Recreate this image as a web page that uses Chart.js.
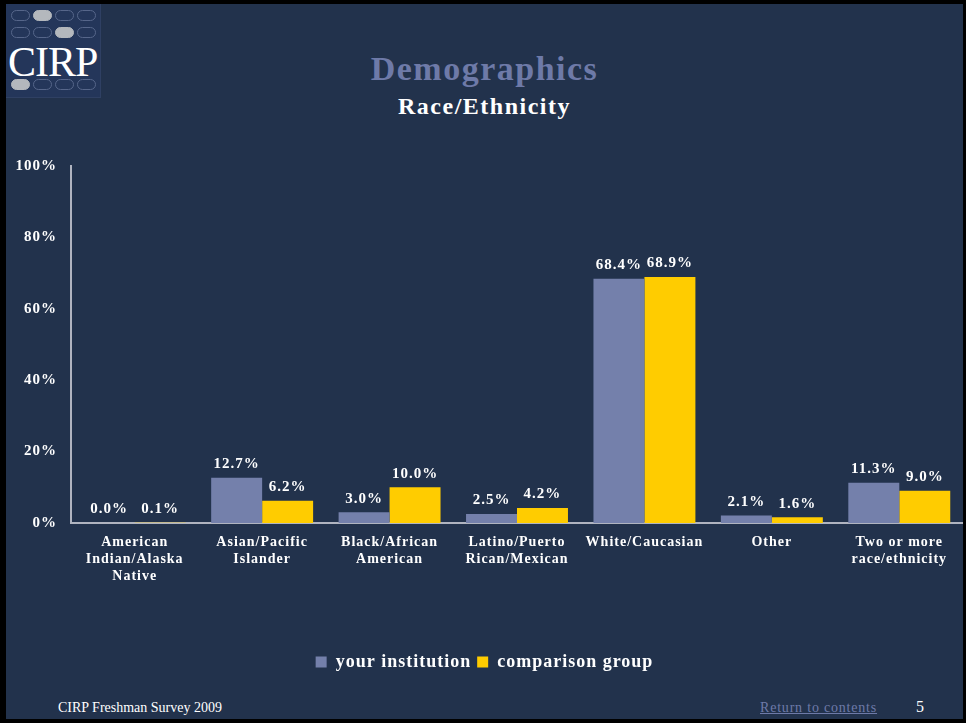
<!DOCTYPE html>
<html>
<head>
<meta charset="utf-8">
<script src="https://cdn.jsdelivr.net/npm/chart.js@4/dist/chart.umd.min.js"></script>
<style>
  html, body { margin: 0; padding: 0; background: #000; }
  body { width: 966px; height: 723px; position: relative; overflow: hidden; font-family: "Liberation Serif", "DejaVu Serif", serif; }
  #slide { position: absolute; left: 6px; top: 4px; width: 957px; height: 715px; background: #22324c; }
  #logo { position: absolute; left: 0; top: 0; width: 94px; height: 93px; background: #24365a; border-right: 1px solid #2f4063; border-bottom: 1px solid #2f4063; }
  .oval { position: absolute; width: 19px; height: 11px; border: 1px solid #56668a; border-radius: 6px; box-sizing: border-box; }
  .oval.on { background: #b4b8bd; border-color: #b4b8bd; }
  #logoText { position: absolute; left: 2px; top: 34px; font-size: 42px; color: #fff; letter-spacing: -1px; }
  #title { position: absolute; left: 0; width: 957px; top: 46px; text-align: center; font-size: 34px; font-weight: bold; color: #6e7aa8; letter-spacing: 1.5px; }
  #subtitle { position: absolute; left: 0; width: 957px; top: 89px; text-align: center; font-size: 24px; font-weight: bold; color: #fff; letter-spacing: 1.5px; }
  #chartBox { position: absolute; left: 0; top: 139px; width: 957px; height: 542px; }
  #footer { position: absolute; left: 52px; top: 696px; font-size: 14px; color: #fff; }
  #link { position: absolute; left: 754px; top: 696px; font-size: 14px; color: #6e7aa8; text-decoration: underline; letter-spacing: 0.8px; }
  #page { position: absolute; left: 910px; top: 694px; font-size: 16px; color: #fff; }
</style>
</head>
<body>
<div id="slide">
  <div id="logo"></div>
  <div id="title">Demographics</div>
  <div id="subtitle">Race/Ethnicity</div>
  <div id="chartBox"><canvas id="chart"></canvas></div>
  <div id="footer">CIRP Freshman Survey 2009</div>
  <div id="link">Return to contents</div>
  <div id="page">5</div>
</div>
<script>
const categories = [
    ["American", "Indian/Alaska", "Native"],
    ["Asian/Pacific", "Islander"],
    ["Black/African", "American"],
    ["Latino/Puerto", "Rican/Mexican"],
    "White/Caucasian",
    "Other",
    ["Two or more", "race/ethnicity"]
];
const yourInstitution = [0.0, 12.7, 3.0, 2.5, 68.4, 2.1, 11.3];
const comparisonGroup = [0.1, 6.2, 10.0, 4.2, 68.9, 1.6, 9.0];
const yTicks = [0, 20, 40, 60, 80, 100];

// logo: rows of little ovals, one filled in each row
const logo = document.getElementById('logo');
const ovalRows = [{ y: 6, on: 1 }, { y: 23, on: 2 }, { y: 75, on: 0 }];
ovalRows.forEach(row => {
    for (let i = 0; i < 4; i++) {
        const o = document.createElement('div');
        o.className = 'oval' + (i === row.on ? ' on' : '');
        o.style.left = (5 + i * 22) + 'px';
        o.style.top = row.y + 'px';
        logo.appendChild(o);
    }
});
const lt = document.createElement('div');
lt.id = 'logoText';
lt.textContent = 'CIRP';
logo.appendChild(lt);

const FONT = "'Liberation Serif', 'DejaVu Serif', serif";

// the slide text is a wide, spaced serif, so space the canvas letters a bit
const spacing = {
    id: 'spacing',
    beforeLayout(chart) { chart.ctx.letterSpacing = '1px'; },
    beforeDraw(chart) { chart.ctx.letterSpacing = '1px'; }
};

const valueLabels = {
    id: 'valueLabels',
    afterDatasetsDraw(chart) {
        const ctx = chart.ctx;
        ctx.save();
        ctx.font = 'bold 15px ' + FONT;
        ctx.fillStyle = '#ffffff';
        ctx.textAlign = 'center';
        ctx.textBaseline = 'bottom';
        chart.data.datasets.forEach((ds, di) => {
            chart.getDatasetMeta(di).data.forEach((bar, i) => {
                ctx.fillText(ds.data[i].toFixed(1) + '%', bar.x, bar.y - 6);
            });
        });
        ctx.restore();
    }
};

new Chart(document.getElementById('chart'), {
    type: 'bar',
    data: {
        labels: categories,
        datasets: [
            { label: 'your institution', data: yourInstitution, backgroundColor: '#7480ab' },
            { label: 'comparison group', data: comparisonGroup, backgroundColor: '#ffcc00' }
        ]
    },
    options: {
        responsive: true,
        maintainAspectRatio: false,
        animation: false,
        layout: { padding: { top: 12, right: 0, left: 0, bottom: 4 } },
        categoryPercentage: 0.8,
        barPercentage: 1.0,
        plugins: {
            tooltip: { enabled: false },
            legend: {
                position: 'bottom',
                labels: {
                    color: '#ffffff',
                    font: { family: FONT, size: 18, weight: 'bold' },
                    boxWidth: 11,
                    boxHeight: 11,
                    padding: 6
                }
            }
        },
        scales: {
            x: {
                grid: { display: false, drawTicks: false },
                border: { color: '#b0b4c0', width: 2 },
                ticks: {
                    color: '#ffffff',
                    font: { family: FONT, size: 14, weight: 'bold', lineHeight: 1.2 },
                    maxRotation: 0,
                    autoSkip: false,
                    padding: 11
                },
                afterFit: s => { s.height = 124; }
            },
            y: {
                min: 0,
                max: 100,
                afterBuildTicks: s => { s.ticks = yTicks.map(v => ({ value: v })); },
                grid: { display: false, drawTicks: false },
                border: { color: '#b0b4c0', width: 2 },
                ticks: {
                    color: '#ffffff',
                    font: { family: FONT, size: 15, weight: 'bold' },
                    padding: 14,
                    callback: v => v + '%'
                },
                afterFit: s => { s.width = 65; }
            }
        }
    },
    plugins: [spacing, valueLabels]
});
</script>
</body>
</html>
